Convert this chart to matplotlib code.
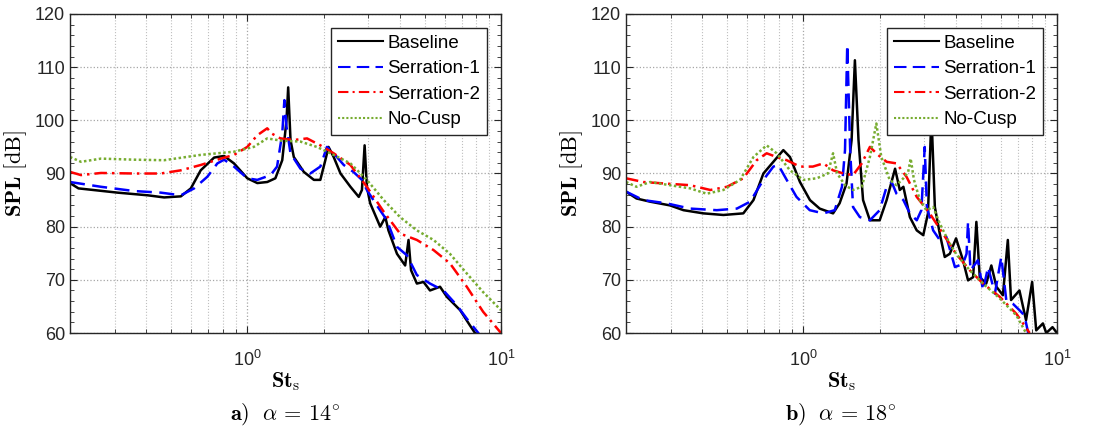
import matplotlib
matplotlib.use('Agg')
import matplotlib.pyplot as plt
from matplotlib.ticker import AutoMinorLocator, FixedLocator, FixedFormatter, NullFormatter, LogLocator

plt.rcParams['font.family'] = ['Liberation Sans', 'DejaVu Sans']
plt.rcParams['mathtext.fontset'] = 'cm'

labels = ['Baseline', 'Serration-1', 'Serration-2', 'No-Cusp']
colors = ['black', 'blue', 'red', '#77AC30']
styles = ['-', (0, (6, 3)), (0, (5, 2, 1, 2)), (0, (1, 1))]
captions = [r'$\mathbf{a)}\ \ \alpha\, =\, 14^{\circ}$', r'$\mathbf{b)}\ \ \alpha\, =\, 18^{\circ}$']

# ---- a) alpha = 14 deg ----
st_a_base = [0.2, 0.216, 0.308, 0.405, 0.47, 0.547, 0.599, 0.655, 0.74, 0.81, 0.886, 1.0, 1.095, 1.198,
             1.29, 1.373, 1.427, 1.449, 1.48, 1.525, 1.67, 1.83, 1.94, 2.03, 2.09, 2.19, 2.33, 2.55, 2.75,
             2.83, 2.90, 2.96, 3.05, 3.34, 3.50, 3.60, 3.89, 4.19, 4.32, 4.42, 4.66, 4.95, 5.25, 5.75,
             6.12, 6.90, 7.55, 7.90, 8.3]
spl_a_base = [88.2, 87.2, 86.4, 85.9, 85.5, 85.7, 87.2, 90.6, 93.0, 93.3, 91.9, 89.1, 88.2, 88.4,
              89.1, 92.5, 100.0, 106.2, 96.3, 93.1, 90.3, 88.8, 88.8, 92.5, 95.0, 93.1, 90.0, 87.5, 85.6,
              86.9, 95.3, 87.5, 84.4, 80.0, 81.8, 79.3, 74.9, 72.7, 77.5, 71.8, 69.3, 69.6, 68.0, 68.7,
              66.8, 64.3, 61.4, 60.0, 58.0]

st_a_s1 = [0.2, 0.265, 0.358, 0.456, 0.547, 0.617, 0.696, 0.762, 0.81, 0.886, 1.0, 1.095, 1.235, 1.31,
           1.373, 1.40, 1.427, 1.48, 1.62, 1.77, 1.94, 2.06, 2.19, 2.40, 2.62, 2.83, 2.96, 3.24, 3.55,
           3.89, 4.26, 4.66, 5.25, 5.93, 6.70, 7.33, 8.14, 8.5]
spl_a_s1 = [88.4, 87.5, 86.7, 86.4, 85.9, 87.2, 89.4, 91.9, 92.6, 91.3, 89.1, 88.8, 89.7, 91.3,
            97.5, 103.8, 98.8, 93.8, 90.9, 90.0, 91.3, 95.0, 93.8, 91.6, 90.3, 88.8, 86.9, 84.0, 81.2,
            76.2, 74.6, 70.9, 69.3, 68.0, 65.2, 62.7, 60.0, 58.5]

st_a_s2 = [0.2, 0.221, 0.265, 0.358, 0.456, 0.547, 0.655, 0.786, 0.886, 1.0, 1.095, 1.198, 1.25, 1.35,
           1.525, 1.72, 1.94, 2.19, 2.55, 2.96, 3.45, 4.0, 4.66, 5.42, 6.29, 7.33, 8.5, 10.0]
spl_a_s2 = [90.3, 89.7, 90.1, 90.0, 90.0, 90.6, 91.6, 92.8, 93.5, 95.0, 97.2, 98.5, 97.5, 96.6,
            96.3, 96.6, 95.3, 93.8, 91.6, 87.5, 82.8, 78.7, 77.5, 75.6, 73.1, 68.7, 64.0, 60.0]

st_a_nc = [0.2, 0.221, 0.265, 0.358, 0.47, 0.655, 0.886, 1.06, 1.198, 1.35, 1.62, 1.88, 2.19, 2.55,
           2.96, 3.45, 4.0, 4.66, 5.42, 6.29, 7.33, 8.5, 10.0]
spl_a_nc = [93.1, 92.2, 92.8, 92.6, 92.5, 93.5, 94.1, 95.0, 96.6, 96.2, 96.0, 95.0, 93.5, 91.9,
            88.8, 85.0, 81.8, 79.3, 77.5, 74.9, 71.2, 67.7, 64.3]

# ---- b) alpha = 18 deg ----
st_b_base = [0.2, 0.22, 0.249, 0.298, 0.337, 0.404, 0.484, 0.58, 0.636, 0.696, 0.762, 0.834, 0.886,
             0.97, 1.062, 1.16, 1.31, 1.39, 1.48, 1.55, 1.597, 1.65, 1.72, 1.83, 2.0, 2.13, 2.30, 2.40,
             2.48, 2.63, 2.80, 2.97, 3.10, 3.20, 3.30, 3.45, 3.61, 3.78, 4.0, 4.26, 4.46, 4.67, 4.81,
             4.96, 5.26, 5.51, 5.77, 6.12, 6.40, 6.59, 7.11, 7.55, 7.98, 8.28, 8.8, 9.07, 9.6, 10.0]
spl_b_base = [86.6, 85.3, 84.7, 84.0, 83.1, 82.5, 82.2, 82.5, 85.0, 90.0, 92.2, 94.4, 93.1,
              88.4, 85.0, 83.4, 82.5, 84.4, 88.1, 96.3, 111.3, 96.3, 85.0, 81.2, 81.2, 85.0, 90.9, 86.9,
              87.5, 81.8, 79.3, 78.4, 82.5, 101.0, 83.7, 78.7, 74.3, 74.9, 77.8, 73.7, 69.9, 70.5, 80.9,
              70.5, 69.3, 72.7, 68.7, 67.1, 77.5, 66.2, 68.0, 62.4, 69.6, 60.5, 61.8, 60.0, 61.1, 60.0]

st_b_s1 = [0.2, 0.234, 0.288, 0.358, 0.456, 0.547, 0.617, 0.696, 0.762, 0.797, 0.86, 0.94, 1.06, 1.2,
           1.33, 1.42, 1.46, 1.49, 1.53, 1.57, 1.67, 1.83, 2.0, 2.13, 2.23, 2.33, 2.48, 2.63, 2.80,
           2.92, 3.01, 3.07, 3.25, 3.45, 3.66, 3.96, 4.26, 4.40, 4.46, 4.56, 4.88, 5.11, 5.35, 5.69,
           6.03, 6.31, 6.70, 7.11, 7.44, 7.70]
spl_b_s1 = [86.6, 85.0, 84.4, 83.4, 83.1, 83.4, 84.7, 88.8, 91.3, 91.6, 88.8, 85.6, 83.1, 82.5,
            83.1, 87.5, 94.4, 114.2, 94.4, 83.7, 81.8, 81.2, 83.1, 87.5, 88.4, 86.2, 85.0, 82.5, 81.2,
            83.1, 95.0, 83.7, 79.3, 77.5, 78.1, 72.4, 73.0, 74.9, 80.9, 71.8, 73.7, 68.0, 72.4, 67.4,
            74.3, 66.2, 65.5, 64.3, 63.3, 60.0]

st_b_s2 = [0.2, 0.234, 0.288, 0.358, 0.43, 0.5, 0.58, 0.655, 0.717, 0.785, 0.86, 0.97, 1.09, 1.2,
           1.31, 1.44, 1.57, 1.70, 1.83, 1.97, 2.13, 2.33, 2.55, 2.80, 3.15, 3.55, 4.0, 4.53, 5.11,
           5.95, 6.92, 7.8]
spl_b_s2 = [89.1, 88.4, 88.1, 87.8, 86.9, 87.5, 89.1, 92.5, 93.8, 93.1, 92.5, 91.3, 91.3, 91.9,
            90.6, 90.0, 89.7, 91.9, 95.0, 93.5, 92.2, 91.9, 89.4, 85.6, 82.5, 78.7, 74.9, 71.8, 69.3,
            66.8, 63.6, 60.0]

st_b_nc = [0.2, 0.22, 0.249, 0.298, 0.358, 0.416, 0.484, 0.563, 0.636, 0.717, 0.785, 0.886, 1.0,
           1.13, 1.25, 1.31, 1.36, 1.46, 1.57, 1.70, 1.83, 1.94, 2.03, 2.19, 2.33, 2.48, 2.59, 2.65,
           2.73, 2.88, 3.06, 3.25, 3.45, 3.78, 4.0, 4.53, 5.11, 5.95, 6.92, 7.55]
spl_b_nc = [88.4, 87.5, 88.4, 87.8, 87.2, 86.2, 86.9, 88.8, 93.1, 95.3, 93.8, 90.6, 88.8,
            89.1, 90.0, 93.8, 90.0, 87.8, 86.9, 87.5, 93.1, 99.4, 93.1, 88.8, 87.8, 89.1, 90.3, 92.8,
            88.8, 85.0, 83.1, 83.7, 80.6, 76.8, 74.9, 71.8, 69.3, 66.5, 63.3, 60.0]

panels = [
    [(st_a_base, spl_a_base), (st_a_s1, spl_a_s1), (st_a_s2, spl_a_s2), (st_a_nc, spl_a_nc)],
    [(st_b_base, spl_b_base), (st_b_s1, spl_b_s1), (st_b_s2, spl_b_s2), (st_b_nc, spl_b_nc)],
]

fig = plt.figure(figsize=(10.99, 4.30), dpi=100)
ax_lefts = [70 / 1099, 626 / 1099]

for i, series in enumerate(panels):
    ax = fig.add_axes([ax_lefts[i], 1 - 333 / 430, 431 / 1099, 319 / 430])
    for (st, spl), lab, c, ls in zip(series, labels, colors, styles):
        ax.plot(st, spl, color=c, linestyle=ls, linewidth=1.8, label=lab)

    ax.set_xscale('log')
    ax.set_xlim(0.2, 10)
    ax.set_ylim(60, 120)
    ax.set_yticks(range(60, 121, 10))
    ax.yaxis.set_minor_locator(AutoMinorLocator(5))
    ax.xaxis.set_major_locator(FixedLocator([1, 10]))
    ax.xaxis.set_major_formatter(FixedFormatter([r'$\mathregular{10^0}$', r'$\mathregular{10^1}$']))
    ax.xaxis.set_minor_locator(LogLocator(base=10, subs=range(2, 10)))
    ax.xaxis.set_minor_formatter(NullFormatter())

    ax.grid(True, which='major', color='0.65', linestyle=':', linewidth=0.9)
    ax.grid(True, which='minor', axis='x', color='0.75', linestyle=':', linewidth=0.8)
    ax.tick_params(which='both', direction='in', top=True, right=True, labelsize=13, colors='0.15')
    ax.tick_params(which='major', length=5)
    ax.tick_params(which='minor', length=3)
    ax.tick_params(axis='x', which='major', pad=12)
    for sp in ax.spines.values():
        sp.set_color('0.15')
        sp.set_linewidth(1.0)

    ax.set_ylabel(r'$\mathbf{SPL}\ [\mathrm{dB}]$', fontsize=16, labelpad=4)
    ax.set_xlabel(r'$\mathbf{St}_\mathrm{s}$', fontsize=16, labelpad=0)

    leg = ax.legend(loc='upper right', fontsize=13.5, handlelength=2.4, handletextpad=0.25,
                    labelspacing=0.45, borderaxespad=0.75, borderpad=0.35, fancybox=False,
                    framealpha=1, edgecolor='0.15')
    leg.get_frame().set_linewidth(1.0)
    for line in leg.get_lines():
        line.set_linewidth(1.5)

    fig.text(ax_lefts[i] + 215 / 1099, 1 - 414 / 430, captions[i], ha='center', va='center', fontsize=16)

fig.savefig('out.png', dpi=100)
